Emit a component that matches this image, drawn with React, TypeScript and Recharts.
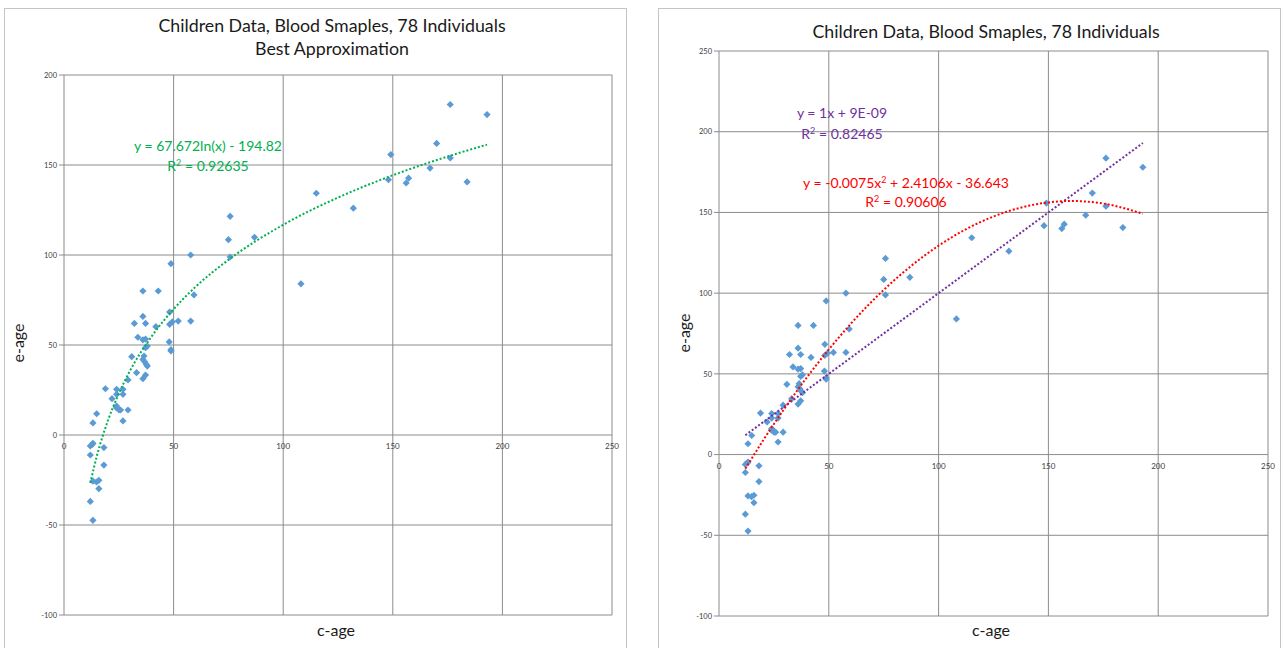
import { CartesianGrid, Scatter, ScatterChart, XAxis, YAxis } from "recharts"

// c-age / e-age of the 78 children (overlapping markers read as one)
const cAge = [
    12.0, 12.9, 13.2, 18.2, 12.0, 18.2, 13.2, 14.8, 15.9, 15.9, 12.0, 13.2,
    13.2, 14.9, 18.9, 21.9, 24.0, 26.9, 24.0, 26.9, 24.0, 23.9, 25.1, 25.8, 29.2, 26.9,
    29.2, 33.1, 37.2, 36.0, 30.9, 36.5, 36.0, 36.8, 37.5, 38.0, 37.2, 38.0, 33.7, 36.0,
    37.2, 32.1, 37.2, 36.0, 36.0, 43.0, 41.9, 48.2, 48.2, 49.4, 52.1, 48.0, 48.8, 48.8,
    48.8, 57.8, 57.8, 59.3, 75.0, 75.8, 75.8, 86.9, 108.1, 115.1, 132.0, 148.0, 149.1,
    156.1, 157.2, 167.0, 170.0, 176.2, 176.2, 183.9, 193.0,
]
const eAge = [
    -6.1, -5.2, -4.6, -7.0, -11.1, -16.7, -25.6, -26.1, -25.2, -29.8, -36.9, -47.4,
    6.7, 11.8, 25.7, 20.2, 25.4, 25.4, 22.6, 22.6, 16.1, 15.2, 13.9, 13.9, 13.9, 7.8,
    30.6, 34.6, 33.3, 31.3, 43.5, 43.9, 42.0, 40.7, 39.3, 38.3, 48.5, 49.4, 54.3, 52.9,
    53.3, 62.0, 62.0, 65.9, 80.0, 80.0, 60.2, 68.3, 61.5, 62.8, 63.3, 51.7, 47.4, 46.7,
    95.2, 63.3, 100.0, 77.8, 108.5, 121.5, 98.9, 109.8, 84.0, 134.3, 126.0, 141.8, 155.8,
    140.0, 142.7, 148.3, 162.0, 183.6, 153.9, 140.6, 178.0,
]

// trendlines as drawn
const logFitC = [12, 15, 20, 25, 30, 40, 50, 60, 75, 100, 125, 150, 175, 193]
const logFitE = [-26.7, -11.6, 7.9, 23.0, 35.4, 54.8, 69.9, 82.3, 97.3, 116.8, 131.9, 144.3, 154.7, 161.3]
const linFitC = [12, 193]
const linFitE = [12, 193]
const quadFitC = [12, 20, 30, 40, 50, 60, 75, 100, 125, 150, 160, 175, 193]
const quadFitE = [-8.8, 8.6, 28.9, 47.8, 65.1, 81.0, 102.0, 129.4, 147.5, 156.2, 157.1, 155.5, 149.2]

const xTicks = [0, 50, 100, 150, 200, 250]
const leftYTicks = [-100, -50, 0, 50, 100, 150, 200]
const rightYTicks = [-100, -50, 0, 50, 100, 150, 200, 250]

const zip = (xs: number[], ys: number[]) => xs.map((x, i) => ({ x, y: ys[i] }))
const points = zip(cAge, eAge)

const FONT = "Lato, 'Liberation Sans', sans-serif"
const BLUE = "#5B9BD5"
const GRID = "#8c8c8c"

const noDot = () => <g />

// excel-style square diamond marker
function Diamond(props: any) {
    const { cx, cy } = props
    const r = 3.6
    return <polygon points={`${cx},${cy - r} ${cx + r},${cy} ${cx},${cy + r} ${cx - r},${cy}`} fill={BLUE} />
}

function CrossTick(props: any) {
    const { x, payload, zeroY } = props
    return (
        <text x={x} y={zeroY + 14} textAnchor="middle" fontSize={8} fill="#404040" fontFamily={FONT}>
            {payload.value}
        </text>
    )
}

function Panel({
    left,
    margin,
    yTicks,
    yDomain,
    children,
}: {
    left: number
    margin: { top: number; right: number; left: number; bottom: number }
    yTicks: number[]
    yDomain: [number, number]
    children: React.ReactNode
}) {
    const W = 623
    const H = 660
    const plotH = H - margin.top - margin.bottom
    const zeroY = margin.top + (plotH * yDomain[1]) / (yDomain[1] - yDomain[0])
    return (
        <div style={{ position: "absolute", left, top: 8, width: W, height: H, border: "1px solid #c4c4c4", boxSizing: "border-box" }}>
            <ScatterChart width={W} height={H} margin={{ ...margin, left: 0, bottom: 0 }}>
                <CartesianGrid stroke={GRID} strokeWidth={1} />
                <XAxis
                    type="number"
                    dataKey="x"
                    domain={[0, 250]}
                    ticks={xTicks}
                    axisLine={false}
                    tickLine={false}
                    height={margin.bottom}
                    tick={(p: any) => <CrossTick {...p} zeroY={zeroY} />}
                />
                <YAxis
                    type="number"
                    dataKey="y"
                    domain={yDomain}
                    ticks={yTicks}
                    width={margin.left}
                    axisLine={false}
                    tickSize={5}
                    tickLine={{ stroke: GRID }}
                    tick={{ fontSize: 7.5, fill: "#404040", fontFamily: FONT }}
                />
                <Scatter data={points} fill={BLUE} shape={Diamond} isAnimationActive={false} />
                {children}
            </ScatterChart>
        </div>
    )
}

const label = (x: number, y: number, text: React.ReactNode, color: string, size: number, rotate = false) => (
    <div
        style={{
            position: "absolute",
            left: x,
            top: y,
            transform: `translate(-50%, -50%)${rotate ? " rotate(-90deg)" : ""}`,
            whiteSpace: "nowrap",
            color,
            fontSize: size,
            fontFamily: FONT,
            lineHeight: 1,
        }}
    >
        {text}
    </div>
)

const sup = (t: string) => <sup style={{ fontSize: 9 }}>{t}</sup>

export default function App() {
    const dotted = { strokeDasharray: "2 2", strokeWidth: 2 }
    return (
        <div style={{ position: "fixed", left: 0, top: 0, width: 1283, height: 648, background: "#fff", overflow: "hidden" }}>
            <Panel left={4} margin={{ top: 66, right: 16, left: 59, bottom: 54 }} yTicks={leftYTicks} yDomain={[-100, 200]}>
                <Scatter
                    data={zip(logFitC, logFitE)}
                    line={{ stroke: "#00B050", ...dotted }}
                    lineJointType="monotoneX"
                    shape={noDot}
                    isAnimationActive={false}
                />
            </Panel>
            <Panel left={658} margin={{ top: 42, right: 14, left: 60, bottom: 53 }} yTicks={rightYTicks} yDomain={[-100, 250]}>
                <Scatter
                    data={zip(linFitC, linFitE)}
                    line={{ stroke: "#7030A0", ...dotted }}
                    shape={noDot}
                    isAnimationActive={false}
                />
                <Scatter
                    data={zip(quadFitC, quadFitE)}
                    line={{ stroke: "#FF0000", ...dotted }}
                    lineJointType="monotoneX"
                    shape={noDot}
                    isAnimationActive={false}
                />
            </Panel>

            {label(332, 26, "Children Data, Blood Smaples, 78 Individuals", "#1a1a1a", 17.8)}
            {label(332, 49, "Best Approximation", "#1a1a1a", 17.8)}
            {label(336, 630, "c-age", "#1a1a1a", 16)}
            {label(18, 343, "e-age", "#1a1a1a", 16, true)}
            {label(208, 146, "y = 67.672ln(x) - 194.82", "#00B050", 14)}
            {label(208, 165, <span>R{sup("2")} = 0.92635</span>, "#00B050", 14)}

            {label(986, 32, "Children Data, Blood Smaples, 78 Individuals", "#1a1a1a", 17.8)}
            {label(991, 630, "c-age", "#1a1a1a", 16)}
            {label(684, 333, "e-age", "#1a1a1a", 16, true)}
            {label(842, 113, "y = 1x + 9E-09", "#7030A0", 14)}
            {label(842, 133, <span>R{sup("2")} = 0.82465</span>, "#7030A0", 14)}
            {label(906, 182, <span>y = -0.0075x{sup("2")} + 2.4106x - 36.643</span>, "#FF0000", 14)}
            {label(906, 201, <span>R{sup("2")} = 0.90606</span>, "#FF0000", 14)}
        </div>
    )
}
